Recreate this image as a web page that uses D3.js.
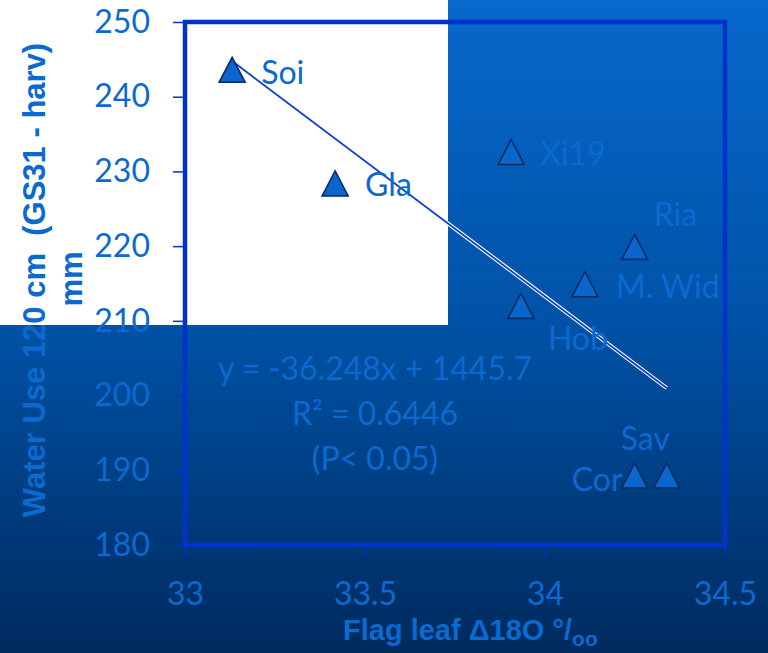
<!DOCTYPE html>
<html>
<head>
<meta charset="utf-8">
<script src="https://cdn.jsdelivr.net/npm/d3@7"></script>
<style>
  html, body { margin: 0; padding: 0; background: #fff; }
  svg { display: block; }
</style>
</head>
<body>
<script>
// water use vs flag leaf D18O scatter

var cultivars = ["Soi", "Gla", "Xi19", "Ria", "M. Wid", "Hob", "Cor", "Sav"];
var d18O     = [33.131, 33.417, 33.906, 34.249, 34.111, 33.933, 34.249, 34.338];
var waterUse = [243.6, 228.4, 232.6, 219.9, 214.9, 212.0, 189.3, 189.3];

var xTicks = [33, 33.5, 34, 34.5];
var xTickLabels = ["33", "33.5", "34", "34.5"];
var yTicks = [180, 190, 200, 210, 220, 230, 240, 250];

var slope = -36.248, intercept = 1445.7;
var eqLines = ["y = -36.248x + 1445.7", "R² = 0.6446", "(P< 0.05)"];

// label placement relative to the marker (dx, dy to baseline, anchor)
var labelPos = [
  [29, 14, "start"], [30, 13, "start"], [29, 13, "start"], [19, -21, "start"],
  [31, 14, "start"], [27, 44, "start"], [-12, 15, "end"], [-46, -26, "start"]
];

var W = 768, H = 653;
var txtCol = "#0a6ad0";
var frameCol = "#0033cc";
var font = "Lato, 'Open Sans', sans-serif";

var svg = d3.select("body").append("svg")
  .attr("width", W).attr("height", H);

// background gradient
var grad = svg.append("defs").append("linearGradient")
  .attr("id", "bg").attr("x1", 0).attr("y1", 0).attr("x2", 0).attr("y2", 1);
grad.append("stop").attr("offset", "0%").attr("stop-color", "#0868cc");
grad.append("stop").attr("offset", "50%").attr("stop-color", "#0052a6");
grad.append("stop").attr("offset", "100%").attr("stop-color", "#002a5e");

svg.append("rect").attr("width", W).attr("height", H).attr("fill", "url(#bg)");
// white patch top-left
svg.append("rect").attr("x", 0).attr("y", 0).attr("width", 448).attr("height", 325).attr("fill", "#fff");

var x = d3.scaleLinear().domain([33, 34.5]).range([185, 725]);
var y = d3.scaleLinear().domain([180, 250]).range([545, 22]);

// axes
var yAxis = svg.append("g")
  .attr("transform", "translate(" + x(33) + ",0)")
  .call(d3.axisLeft(y).tickValues(yTicks).tickSize(12).tickPadding(23).tickFormat(d3.format("d")));
var xAxis = svg.append("g")
  .attr("transform", "translate(0," + y(180) + ")")
  .call(d3.axisBottom(x).tickValues(xTicks).tickSize(12).tickPadding(25)
    .tickFormat(function(d, i) { return xTickLabels[i]; }));

[xAxis, yAxis].forEach(function(g) {
  g.select(".domain").remove();
  g.selectAll(".tick line").attr("stroke", frameCol).attr("stroke-width", 1.5);
  g.selectAll(".tick text")
    .attr("fill", txtCol)
    .style("font-family", font)
    .style("font-size", "32px");
});

// plot frame
svg.append("rect")
  .attr("x", x(33)).attr("y", y(250))
  .attr("width", x(34.5) - x(33)).attr("height", y(180) - y(250))
  .attr("fill", "none").attr("stroke", frameCol).attr("stroke-width", 4.5);

// trend line (double-line look)
var xs = d3.extent(d18O);
var trend = xs.map(function(v) { return [x(v), y(slope * v + intercept)]; });
var lineGen = d3.line();
svg.append("path").attr("d", lineGen(trend))
  .attr("stroke", "#ffffff").attr("stroke-width", 4).attr("fill", "none");
svg.append("path").attr("d", lineGen(trend))
  .attr("stroke", "#0d3fd0").attr("stroke-width", 1.8).attr("fill", "none");

// triangle markers
function tri(cx, cy) {
  var hw = 13, hh = 12.5;
  return "M" + cx + "," + (cy - hh) + "L" + (cx + hw) + "," + (cy + hh) + "L" + (cx - hw) + "," + (cy + hh) + "Z";
}
var pts = cultivars.map(function(c, i) { return { name: c, x: d18O[i], y: waterUse[i], lp: labelPos[i] }; });

svg.selectAll("path.pt").data(pts).enter().append("path")
  .attr("class", "pt")
  .attr("d", function(d) { return tri(x(d.x), y(d.y)); })
  .attr("fill", "#0a66cc")
  .attr("stroke", "#0c2a66")
  .attr("stroke-width", 1.6)
  .attr("stroke-linejoin", "miter");

svg.selectAll("text.lbl").data(pts).enter().append("text")
  .attr("class", "lbl")
  .attr("x", function(d) { return x(d.x) + d.lp[0]; })
  .attr("y", function(d) { return y(d.y) + d.lp[1]; })
  .attr("text-anchor", function(d) { return d.lp[2]; })
  .attr("fill", txtCol)
  .style("font-family", font)
  .style("font-size", "32px")
  .text(function(d) { return d.name; });

// regression equation
svg.selectAll("text.eq").data(eqLines).enter().append("text")
  .attr("class", "eq")
  .attr("x", 375)
  .attr("y", function(d, i) { return 380 + i * 45; })
  .attr("text-anchor", "middle")
  .attr("fill", txtCol)
  .style("font-family", font)
  .style("font-size", "32px")
  .text(function(d) { return d; });

// axis titles
var bold = "'Liberation Sans', Arial, sans-serif";
svg.append("text")
  .attr("transform", "translate(45,280) rotate(-90)")
  .attr("text-anchor", "middle")
  .attr("fill", txtCol)
  .style("font-family", bold).style("font-weight", "bold").style("font-size", "31px")
  .style("white-space", "pre")
  .text("Water Use 120 cm  (GS31 - harv)");
svg.append("text")
  .attr("transform", "translate(82,279) rotate(-90)")
  .attr("text-anchor", "middle")
  .attr("fill", txtCol)
  .style("font-family", bold).style("font-weight", "bold").style("font-size", "31px")
  .text("mm");

var xt = svg.append("text")
  .attr("x", 343).attr("y", 640)
  .attr("fill", txtCol)
  .style("font-family", bold).style("font-weight", "bold").style("font-size", "29px");
xt.append("tspan").text("Flag leaf Δ18O °/");
xt.append("tspan").attr("dy", 6).style("font-size", "21px").text("oo");
</script>
</body>
</html>
